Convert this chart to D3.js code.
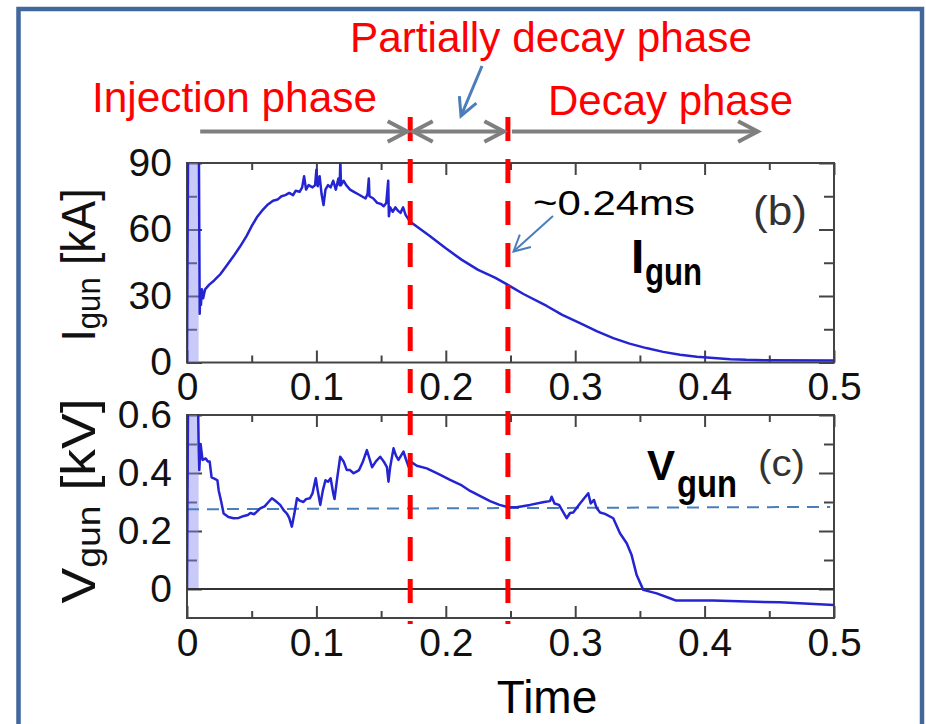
<!DOCTYPE html>
<html>
<head>
<meta charset="utf-8">
<script src="https://cdn.jsdelivr.net/npm/d3@7"></script>
<style>
body { margin: 0; background: #fff; }
svg { display: block; font-family: "Liberation Sans", Arial, sans-serif; }
</style>
</head>
<body>
<svg id="chart" width="926" height="724"></svg>
<script>
// time in ms, current in kA, voltage in kV
var xTicks = [0, 0.1, 0.2, 0.3, 0.4, 0.5];
var xMinor = [0.05, 0.15, 0.25, 0.35, 0.45];
var iTicks = [0, 30, 60, 90];
var iMinor = [15, 45, 75];
var vTicks = [0, 0.2, 0.4, 0.6];
var vMinor = [0.1, 0.3, 0.5];

var phaseBounds = [0.1725, 0.248];
var saturated = [0.0008, 0.009];

var iTime = [0, 0.0008, 0.0092, 0.0098, 0.0102, 0.0108, 0.0115, 0.0125, 0.014, 0.017, 0.021, 0.026,
    0.031, 0.036, 0.041, 0.046, 0.05, 0.054, 0.058, 0.062, 0.0665, 0.07, 0.073, 0.076, 0.079, 0.082,
    0.084, 0.087, 0.089, 0.0905, 0.092, 0.094, 0.097, 0.099, 0.1, 0.101, 0.1025, 0.104, 0.1055, 0.107,
    0.109, 0.111, 0.113, 0.115, 0.117, 0.118, 0.1185, 0.119, 0.121, 0.123, 0.126, 0.129, 0.132, 0.135,
    0.138, 0.1395, 0.1405, 0.141, 0.144, 0.147, 0.15, 0.152, 0.154, 0.1555, 0.156, 0.157, 0.159, 0.161,
    0.163, 0.165, 0.167, 0.169, 0.1725, 0.1866, 0.2, 0.2124, 0.225, 0.238, 0.248, 0.26, 0.278, 0.29,
    0.3037, 0.317, 0.3294, 0.342, 0.355, 0.368, 0.381, 0.394, 0.407, 0.42, 0.432, 0.45, 0.5];
var iValues = [0, 95, 95, 22, 31, 26, 33, 29, 33, 35, 37, 40,
    44, 48, 52.3, 57, 61.5, 65.5, 68.5, 71, 73, 73.5, 75, 75.5, 76.5, 75.5,
    77.5, 77, 79, 84, 78, 80, 79, 80, 87, 79.5, 84, 76, 71, 78,
    80, 79, 82, 78, 83, 80, 91, 80, 82, 80, 78, 77, 76, 75,
    74, 76, 83, 75, 74, 72, 71.5, 70.5, 72, 82, 66, 70, 68, 70,
    68.5, 67.5, 70, 66.5, 63.5, 57.5, 51.5, 46.3, 41.8, 38.3, 35, 30.9, 25.5, 21.5,
    17.8, 14, 11, 8.5, 6.5, 4.8, 3.5, 2.6, 2, 1.5, 1.2, 1, 0.9];

var vTime = [0, 0.0008, 0.0085, 0.009, 0.0095, 0.0105, 0.012, 0.0145, 0.016, 0.0175, 0.019, 0.0215,
    0.0235, 0.0245, 0.0265, 0.0283, 0.032, 0.036, 0.04, 0.044, 0.047, 0.049, 0.052, 0.0566, 0.06,
    0.063, 0.0656, 0.068, 0.072, 0.075, 0.0772, 0.079, 0.081, 0.083, 0.085, 0.087, 0.09, 0.092, 0.095,
    0.097, 0.0995, 0.101, 0.103, 0.105, 0.107, 0.109, 0.111, 0.113, 0.114, 0.116, 0.1184, 0.121,
    0.1235, 0.126, 0.1287, 0.131, 0.133, 0.136, 0.139, 0.141, 0.143, 0.146, 0.1493, 0.152, 0.1545,
    0.1557, 0.157, 0.1596, 0.1615, 0.1634, 0.1673, 0.169, 0.1712, 0.1725, 0.1776, 0.1853, 0.195,
    0.2033, 0.2124, 0.2188, 0.2342, 0.2415, 0.2483, 0.2547, 0.2651, 0.276, 0.2805, 0.2818, 0.284,
    0.2875, 0.2934, 0.296, 0.2985, 0.3037, 0.3101, 0.312, 0.3145, 0.3165, 0.3192, 0.323, 0.3294,
    0.3346, 0.3398, 0.3436, 0.3475, 0.3526, 0.363, 0.3732, 0.378, 0.4065, 0.458, 0.5];
var vValues = [0, 0.65, 0.65, 0.5, 0.41, 0.5, 0.445, 0.45, 0.44, 0.44, 0.385, 0.38,
    0.375, 0.34, 0.3, 0.26, 0.248, 0.244, 0.245, 0.252, 0.255, 0.262, 0.258, 0.278, 0.285,
    0.3, 0.313, 0.305, 0.29, 0.27, 0.26, 0.245, 0.215, 0.26, 0.313, 0.305, 0.3, 0.31, 0.313,
    0.33, 0.382, 0.34, 0.29, 0.34, 0.375, 0.37, 0.382, 0.33, 0.31, 0.38, 0.456, 0.44,
    0.41, 0.41, 0.399, 0.405, 0.41, 0.44, 0.479, 0.45, 0.42, 0.44, 0.456, 0.44, 0.42,
    0.37, 0.42, 0.485, 0.46, 0.445, 0.474, 0.45, 0.422, 0.44, 0.425, 0.416, 0.395,
    0.376, 0.357, 0.338, 0.303, 0.29, 0.282, 0.282, 0.29, 0.3, 0.303, 0.318, 0.295,
    0.29, 0.244, 0.262, 0.264, 0.295, 0.33, 0.295, 0.307, 0.28, 0.264, 0.259, 0.244,
    0.192, 0.158, 0.117, 0.048, -0.003, -0.015, -0.032, -0.04, -0.04, -0.046, -0.055];

var vRefTime = [0, 0.497];
var vRefValues = [0.275, 0.283];

var svg = d3.select("#chart");
var x = d3.scaleLinear().domain([0, 0.5]).range([187, 834]);
var yI = d3.scaleLinear().domain([0, 90]).range([362.5, 163]);
var yV = d3.scaleLinear().domain([-0.1, 0.6]).range([618, 415]);

var curveColor = "#2424d2";
var annoBlue = "#4a7ebb";

// slide frame
svg.append("rect")
    .attr("x", 18.5).attr("y", 9)
    .attr("width", 903.5).attr("height", 800)
    .attr("fill", "none")
    .attr("stroke", "#41679c")
    .attr("stroke-width", 4.5);

function drawPanel(y, yTicks, yMinor, id) {
    var g = svg.append("g");
    var top = y.range()[1], bottom = y.range()[0];

    g.append("clipPath").attr("id", id)
        .append("rect")
        .attr("x", x(0)).attr("y", top)
        .attr("width", x(0.5) - x(0)).attr("height", bottom - top);

    // bottom axis with labels
    g.append("g")
        .attr("transform", "translate(0," + bottom + ")")
        .call(d3.axisBottom(x).tickValues(xTicks).tickSize(-12).tickPadding(10)
            .tickFormat(function(d) { return d === 0 ? "0" : d3.format(".1f")(d); }));
    g.append("g")
        .attr("transform", "translate(0," + bottom + ")")
        .call(d3.axisBottom(x).tickValues(xMinor).tickSize(-7).tickFormat(""));
    g.append("g")
        .attr("transform", "translate(0," + top + ")")
        .call(d3.axisTop(x).tickValues(xTicks).tickSize(-12).tickFormat(""));
    g.append("g")
        .attr("transform", "translate(0," + top + ")")
        .call(d3.axisTop(x).tickValues(xMinor).tickSize(-7).tickFormat(""));

    // left axis with labels
    g.append("g")
        .attr("transform", "translate(" + x(0) + ",0)")
        .call(d3.axisLeft(y).tickValues(yTicks).tickSize(-15).tickPadding(15)
            .tickFormat(function(d) { return d === 0 ? "0" : (d < 1 ? d3.format(".1f")(d) : d); }));
    g.append("g")
        .attr("transform", "translate(" + x(0) + ",0)")
        .call(d3.axisLeft(y).tickValues(yMinor).tickSize(-10).tickFormat(""));
    g.append("g")
        .attr("transform", "translate(" + x(0.5) + ",0)")
        .call(d3.axisRight(y).tickValues(yTicks).tickSize(-15).tickFormat(""));
    g.append("g")
        .attr("transform", "translate(" + x(0.5) + ",0)")
        .call(d3.axisRight(y).tickValues(yMinor).tickSize(-10).tickFormat(""));

    g.selectAll(".domain").remove();
    g.selectAll(".tick line").attr("stroke", "#444").attr("stroke-width", 2);
    g.selectAll(".tick text")
        .attr("fill", "#111")
        .attr("font-size", 39)
        .attr("font-family", "'Liberation Sans', Arial, sans-serif");

    g.append("rect")
        .attr("x", x(0)).attr("y", top)
        .attr("width", x(0.5) - x(0)).attr("height", bottom - top)
        .attr("fill", "none")
        .attr("stroke", "#444")
        .attr("stroke-width", 2);

    // saturated digitizer band at breakdown
    g.append("rect")
        .attr("clip-path", "url(#" + id + ")")
        .attr("x", x(saturated[0])).attr("y", top)
        .attr("width", x(saturated[1]) - x(saturated[0]))
        .attr("height", y(0) - top)
        .attr("fill", "#8a8af2")
        .attr("opacity", 0.45);

    return g;
}

var gI = drawPanel(yI, iTicks, iMinor, "clipI");
var gV = drawPanel(yV, vTicks, vMinor, "clipV");

// zero line of the voltage panel
gV.append("line")
    .attr("x1", x(0)).attr("x2", x(0.5))
    .attr("y1", yV(0)).attr("y2", yV(0))
    .attr("stroke", "#333").attr("stroke-width", 2.2);

// reference level
gV.append("path")
    .datum(d3.zip(vRefTime, vRefValues))
    .attr("d", d3.line().x(function(d) { return x(d[0]); }).y(function(d) { return yV(d[1]); }))
    .attr("fill", "none")
    .attr("stroke", annoBlue)
    .attr("stroke-width", 2)
    .attr("stroke-dasharray", "12,8");

gI.append("path")
    .datum(d3.zip(iTime, iValues))
    .attr("clip-path", "url(#clipI)")
    .attr("d", d3.line().x(function(d) { return x(d[0]); }).y(function(d) { return yI(d[1]); }))
    .attr("fill", "none")
    .attr("stroke", curveColor)
    .attr("stroke-width", 2.5)
    .attr("stroke-linejoin", "round");

gV.append("path")
    .datum(d3.zip(vTime, vValues))
    .attr("clip-path", "url(#clipV)")
    .attr("d", d3.line().x(function(d) { return x(d[0]); }).y(function(d) { return yV(d[1]); }))
    .attr("fill", "none")
    .attr("stroke", curveColor)
    .attr("stroke-width", 2.5)
    .attr("stroke-linejoin", "round");

// phase boundaries
svg.selectAll(".phase")
    .data(phaseBounds)
    .enter()
    .append("line")
    .attr("class", "phase")
    .attr("x1", function(d) { return x(d); })
    .attr("x2", function(d) { return x(d); })
    .attr("y1", 117).attr("y2", 624)
    .attr("stroke", "#ff0000")
    .attr("stroke-width", 5)
    .attr("stroke-dasharray", "24,18");

function arrowHead(g, x1, y1, x2, y2, len, ang, color, w) {
    var a = Math.atan2(y2 - y1, x2 - x1);
    var p1 = [x2 - len * Math.cos(a - ang), y2 - len * Math.sin(a - ang)];
    var p2 = [x2 - len * Math.cos(a + ang), y2 - len * Math.sin(a + ang)];
    g.append("path")
        .attr("d", "M" + p1 + "L" + [x2, y2] + "L" + p2)
        .attr("fill", "none")
        .attr("stroke", color)
        .attr("stroke-width", w);
}

function arrow(x1, y1, x2, y2, len, color, w, both) {
    var g = svg.append("g");
    g.append("line")
        .attr("x1", x1).attr("y1", y1).attr("x2", x2).attr("y2", y2)
        .attr("stroke", color).attr("stroke-width", w);
    arrowHead(g, x1, y1, x2, y2, len, 0.48, color, w);
    if (both) arrowHead(g, x2, y2, x1, y1, len, 0.48, color, w);
}

var ay = 131.5;
arrow(x(0.0102), ay, x(phaseBounds[0]) - 3, ay, 22, "#7f7f7f", 4, false);
arrow(x(phaseBounds[1]) - 4, ay, x(phaseBounds[0]) + 3, ay, 22, "#7f7f7f", 4, true);
arrow(x(phaseBounds[1]) + 4, ay, x(0.441), ay, 22, "#7f7f7f", 4, false);

arrow(482, 66, 461, 116, 20, annoBlue, 3, false);
arrow(553, 216, 513.5, 251.5, 18, annoBlue, 2, false);

function label(txt, px, py, size, color, len, weight) {
    var t = svg.append("text")
        .attr("x", px).attr("y", py)
        .attr("font-size", size)
        .attr("fill", color)
        .text(txt);
    if (len) t.attr("textLength", len).attr("lengthAdjust", "spacingAndGlyphs");
    if (weight) t.attr("font-weight", weight);
    return t;
}

label("Partially decay phase", 350, 52, 42, "#ff0000", 402);
label("Injection phase", 92, 112, 42, "#ff0000", 285);
label("Decay phase", 548, 115, 42, "#ff0000", 245);

label("~0.24ms", 533, 215, 35, "#000", 162);
label("(b)", 753, 225, 40, "#333", 54);
label("(c)", 758, 476, 36, "#333", 47);

label("I", 631, 273, 48, "#000", null, "bold");
label("gun", 645, 285, 39, "#000", 57, "bold");
label("V", 647, 480, 42, "#000", null, "bold");
label("gun", 677, 497, 38, "#000", 60, "bold");

label("Time", 547, 713, 46, "#000").attr("text-anchor", "middle");

// rotated y axis titles
function yTitle(main, unit, cy, len) {
    var t = svg.append("text")
        .attr("transform", "translate(95," + cy + ") scale(1.2,1) rotate(-90)")
        .attr("text-anchor", "middle")
        .attr("font-size", 40)
        .attr("fill", "#111")
        .attr("textLength", len)
        .attr("lengthAdjust", "spacingAndGlyphs");
    t.append("tspan").text(main);
    t.append("tspan").attr("font-size", 28).attr("dy", 4).text("gun");
    t.append("tspan").attr("dy", -4).text(" [" + unit + "]");
}
yTitle("I", "kA", 265, 153);
yTitle("V", "kV", 501, 205);
</script>
</body>
</html>
